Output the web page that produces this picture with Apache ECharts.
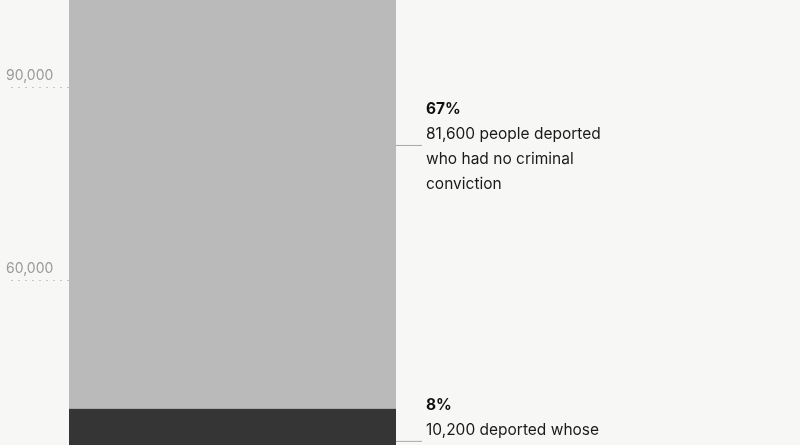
<!DOCTYPE html>
<html>
<head>
<meta charset="utf-8">
<script src="https://cdn.jsdelivr.net/npm/echarts@6/dist/echarts.min.js"></script>
<style>
html,body{margin:0;padding:0;background:#f7f7f5;overflow:hidden;width:800px;height:445px;}
#chart{position:absolute;left:0;top:-300px;width:800px;height:967px;}
</style>
</head>
<body>
<div id="chart"></div>
<script>
// Data
const categories = ['Deportations'];
const otherValues = [29900];        // remaining deportations (below view)
const convictedValues = [10200];    // 8%
const noConvictionValues = [81600]; // 67%
const yTicks = [0, 30000, 60000, 90000, 120000, 150000];
const notePercents = ['8%', '67%'];
const noteLines = [
  ['10,200 deported whose'],
  ['81,600 people deported', 'who had no criminal', 'conviction']
];

const bottoms = [otherValues[0], otherValues[0] + convictedValues[0]];
const tops = [bottoms[0] + convictedValues[0], bottoms[1] + noConvictionValues[0]];
const noteData = bottoms.map((b, i) => [0, b, tops[i]]);

const FONT = 'Inter, "Noto Sans", sans-serif';

const chart = echarts.init(document.getElementById('chart'));
chart.setOption({
  backgroundColor: '#f7f7f5',
  animation: false,
  grid: { left: 69, right: 404, top: 0, bottom: 0, containLabel: false, outerBoundsMode: 'none' },
  xAxis: {
    type: 'category',
    data: categories,
    axisLine: { show: false },
    axisTick: { show: false },
    axisLabel: { show: false }
  },
  yAxis: {
    type: 'value',
    min: yTicks[0],
    max: yTicks[yTicks.length - 1],
    interval: yTicks[1] - yTicks[0],
    axisLine: { show: false },
    splitLine: { show: false },
    axisTick: {
      show: true,
      length: 63,
      lineStyle: { color: '#c6c6c6', type: [2, 5], width: 1 }
    },
    axisLabel: {
      show: true,
      margin: 63,
      align: 'left',
      verticalAlign: 'bottom',
      padding: [0, 0, 4, 0],
      color: '#9a9a9a',
      fontFamily: FONT,
      fontSize: 14,
      formatter: v => v.toLocaleString('en-US')
    }
  },
  series: [
    {
      type: 'bar', stack: 'total', data: otherValues,
      barCategoryGap: 0, itemStyle: { color: '#6e6e6e' }
    },
    {
      type: 'bar', stack: 'total', data: convictedValues,
      barCategoryGap: 0, itemStyle: { color: '#353535' }
    },
    {
      type: 'bar', stack: 'total', data: noConvictionValues,
      barCategoryGap: 0, itemStyle: { color: '#bababa' }
    },
    {
      type: 'custom',
      data: noteData,
      encode: { x: 0, y: [1, 2] },
      z: 10,
      renderItem: function (params, api) {
        const i = params.dataIndex;
        const b = api.value(1), t = api.value(2);
        const mid = api.coord([api.value(0), (b + t) / 2]);
        const band = api.size([1, 0])[0];
        const x0 = mid[0] + band / 2;
        const y0 = mid[1];
        const children = [
          { type: 'line', shape: { x1: x0, y1: y0, x2: x0 + 26, y2: y0 },
            style: { stroke: '#a8a8a8', lineWidth: 1 } },
          { type: 'text', style: { text: notePercents[i], x: x0 + 30, y: y0 - 36.5,
            font: 'bold 15.5px ' + FONT, fill: '#111', verticalAlign: 'middle', align: 'left' } }
        ];
        noteLines[i].forEach((s, k) => {
          children.push({ type: 'text', style: { text: s, x: x0 + 30, y: y0 - 11.5 + 25 * k,
            font: '15.5px ' + FONT, fill: '#1a1a1a', verticalAlign: 'middle', align: 'left' } });
        });
        return { type: 'group', children: children };
      }
    }
  ]
});
</script>
</body>
</html>
